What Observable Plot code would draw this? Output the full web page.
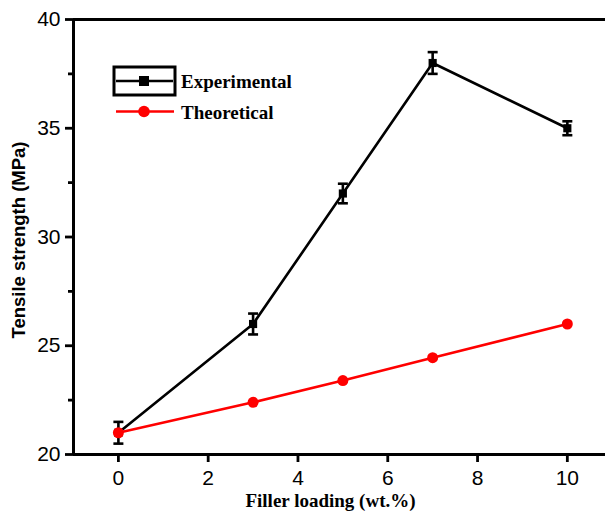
<!DOCTYPE html>
<html>
<head>
<meta charset="utf-8">
<script src="https://cdn.jsdelivr.net/npm/d3@7"></script>
<script src="https://cdn.jsdelivr.net/npm/@observablehq/plot@0.6"></script>
<style>
  html, body { margin: 0; padding: 0; background: #fff; }
  #wrap { position: relative; width: 605px; height: 511px; overflow: hidden; }
  #legend { position: absolute; left: 0; top: 0; pointer-events: none; }
</style>
</head>
<body>
<div id="wrap"></div>
<script>
// ---- data ----
const loading = [0, 3, 5, 7, 10];
const experimental = [21.0, 26.0, 32.0, 38.0, 35.0];
const experimentalErr = [0.5, 0.48, 0.45, 0.5, 0.32];
const theoretical = [21.0, 22.4, 23.4, 24.45, 26.0];
const seriesNames = ["Experimental", "Theoretical"];
const xTicks = [0, 2, 4, 6, 8, 10];
const yTicks = [20, 25, 30, 35, 40];
const yMinorTicks = [22.5, 27.5, 32.5, 37.5];
const xTitle = "Filler loading (wt.%)";
const yTitle = "Tensile strength (MPa)";

const exp = loading.map((x, i) => ({x, y: experimental[i], err: experimentalErr[i]}));
const theo = loading.map((x, i) => ({x, y: theoretical[i]}));

const capSymbol = {
  draw(ctx, size) {
    const r = Math.sqrt(size / Math.PI);
    ctx.moveTo(-r, 0); ctx.lineTo(r, 0);
  }
};

const sans = "'Liberation Sans', Arial, sans-serif";
const serif = "'Liberation Serif', 'Times New Roman', serif";

const chart = Plot.plot({
  width: 605, height: 511,
  marginLeft: 73, marginRight: 0, marginTop: 19, marginBottom: 57,
  x: {domain: [-1, 10.85]},
  y: {domain: [20, 40]},
  style: {fontFamily: sans, fontSize: "21px", color: "black", background: "white"},
  marks: [
    Plot.axisX({ticks: xTicks, tickSize: 8, tickPadding: 8, stroke: "black", strokeWidth: 2.8, label: null, fontSize: 21, fill: "black"}),
    Plot.axisY({ticks: yTicks, tickSize: 8, tickPadding: 5, stroke: "black", strokeWidth: 2.8, label: null, fontSize: 21, fill: "black"}),
    Plot.axisY({ticks: yMinorTicks, tickSize: 5, stroke: "black", strokeWidth: 2.8, tickFormat: () => "", label: null}),
    Plot.ruleY([20], {stroke: "black", strokeWidth: 3}),
    Plot.ruleY([40], {stroke: "black", strokeWidth: 3}),
    Plot.ruleX([-1], {stroke: "black", strokeWidth: 3}),
    Plot.line(exp, {x: "x", y: "y", stroke: "black", strokeWidth: 2.6}),
    Plot.ruleX(exp, {x: "x", y1: d => d.y - d.err, y2: d => d.y + d.err, stroke: "black", strokeWidth: 2.6}),
    Plot.dot(exp, {x: "x", y: d => d.y - d.err, symbol: capSymbol, r: 5, stroke: "black", strokeWidth: 2.6}),
    Plot.dot(exp, {x: "x", y: d => d.y + d.err, symbol: capSymbol, r: 5, stroke: "black", strokeWidth: 2.6}),
    Plot.dot(exp, {x: "x", y: "y", symbol: "square", fill: "black", stroke: "none", r: 4.6}),
    Plot.line(theo, {x: "x", y: "y", stroke: "#ff0000", strokeWidth: 2.6}),
    Plot.dot(theo, {x: "x", y: "y", fill: "#ff0000", stroke: "none", r: 5.5}),
    Plot.text([xTitle], {frameAnchor: "bottom", textAnchor: "middle", lineAnchor: "middle", dx: -9, dy: 46, fontFamily: serif, fontWeight: "bold", fontSize: 19, fill: "black"}),
    Plot.text([yTitle], {frameAnchor: "left", textAnchor: "middle", rotate: -90, dx: -54, dy: 3, fontFamily: sans, fontWeight: "bold", fontSize: 18.5, fill: "black"})
  ]
});

const wrap = document.getElementById("wrap");
wrap.appendChild(chart);

// ---- legend overlay ----
const leg = d3.select(wrap).append("svg").attr("id", "legend").attr("width", 605).attr("height", 511);
// Experimental entry (boxed)
leg.append("rect").attr("x", 114).attr("y", 67).attr("width", 61).attr("height", 28)
  .attr("fill", "none").attr("stroke", "black").attr("stroke-width", 3);
leg.append("line").attr("x1", 116).attr("x2", 173).attr("y1", 81).attr("y2", 81)
  .attr("stroke", "black").attr("stroke-width", 2.6);
leg.append("rect").attr("x", 139).attr("y", 76).attr("width", 10).attr("height", 10).attr("fill", "black");
leg.append("text").attr("x", 181).attr("y", 88).text(seriesNames[0])
  .attr("font-family", serif).attr("font-weight", "bold").attr("font-size", 19).attr("fill", "black");
// Theoretical entry
leg.append("line").attr("x1", 116).attr("x2", 174).attr("y1", 111.5).attr("y2", 111.5)
  .attr("stroke", "#ff0000").attr("stroke-width", 2.6);
leg.append("circle").attr("cx", 144).attr("cy", 111.5).attr("r", 5.8).attr("fill", "#ff0000");
leg.append("text").attr("x", 181).attr("y", 119).text(seriesNames[1])
  .attr("font-family", serif).attr("font-weight", "bold").attr("font-size", 19).attr("fill", "black");
</script>
</body>
</html>
